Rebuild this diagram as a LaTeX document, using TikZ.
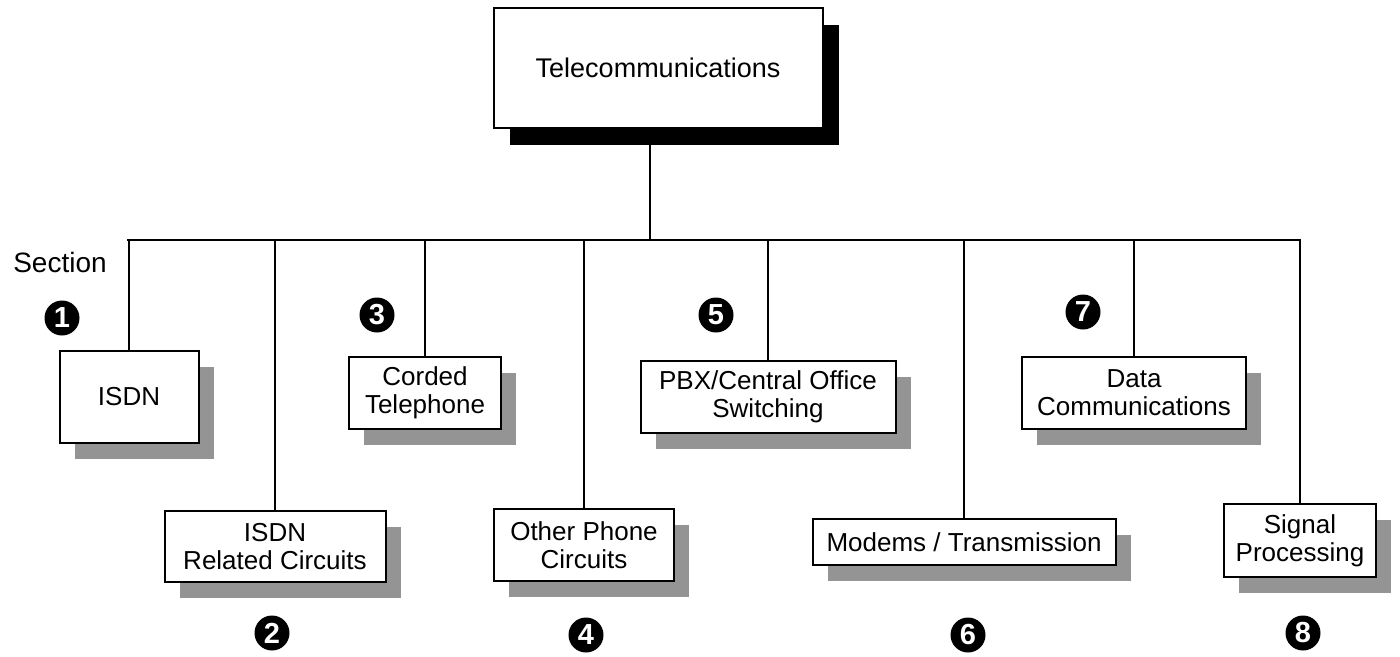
\documentclass[tikz,border=0pt]{standalone}
\usepackage{fontspec}
\setmainfont{Liberation Sans}
\usetikzlibrary{shadows}
\begin{document}
\begin{tikzpicture}[x=1pt,y=-1pt,
  box/.style={draw=black, line width=2pt, fill=white, align=center, inner sep=0pt,
    font=\fontsize{26}{28}\selectfont,
    drop shadow={shadow xshift=15pt, shadow yshift=-16pt, fill=black!42, opacity=1}},
  topbox/.style={draw=black, line width=2pt, fill=white, align=center, inner sep=0pt,
    font=\fontsize{27}{30}\selectfont,
    drop shadow={shadow xshift=16pt, shadow yshift=-17pt, fill=black, opacity=1}},
  num/.style={circle, fill=black, text=white, inner sep=0pt, minimum size=35pt,
    font=\fontsize{29}{29}\selectfont\bfseries},
  conn/.style={line width=2pt}]
\useasboundingbox (0,0) rectangle (1400,656);

% top node
\node[topbox, minimum width=329pt, minimum height=120pt] (top) at (658,68) {Telecommunications};

% bus
\coordinate (busL) at (128,240);
\coordinate (busR) at (1300,240);
\coordinate (busM) at (650,240);

% section nodes
\node[box, minimum width=139pt, minimum height=92pt] (s1) at (129,397) {ISDN};
\node[box, minimum width=221pt, minimum height=71pt] (s2) at (275,546.5) {ISDN\\Related Circuits};
\node[box, minimum width=152pt, minimum height=72pt] (s3) at (425,393) {Corded\\Telephone};
\node[box, minimum width=180pt, minimum height=72pt] (s4) at (584,545) {Other Phone\\Circuits};
\node[box, minimum width=255pt, minimum height=72pt] (s5) at (768,397) {PBX/Central Office\\Switching};
\node[box, minimum width=303pt, minimum height=46pt] (s6) at (964,542) {Modems / Transmission};
\node[box, minimum width=224pt, minimum height=72pt] (s7) at (1134,393) {Data\\Communications};
\node[box, minimum width=152pt, minimum height=73pt] (s8) at (1300,540.5) {Signal\\Processing};

% connectors
\draw[conn] (top.south -| busM) -- (busM);
\draw[conn, line cap=rect] (busL) -- (busR);
\foreach \n in {s1,s2,s3,s4,s5,s6,s7,s8}{
  \draw[conn] (\n.north) -- (\n.north |- busL);
}

% labels
\node[font=\fontsize{28}{28}\selectfont] (sec) at (60,262) {Section};
\node[num] (n1) at (62,318) {1};
\node[num] (n2) at (272,633) {2};
\node[num] (n3) at (377,315) {3};
\node[num] (n4) at (586,635) {4};
\node[num] (n5) at (716,315) {5};
\node[num] (n6) at (968,635) {6};
\node[num] (n7) at (1083,312) {7};
\node[num] (n8) at (1303,633) {8};
\end{tikzpicture}
\end{document}
